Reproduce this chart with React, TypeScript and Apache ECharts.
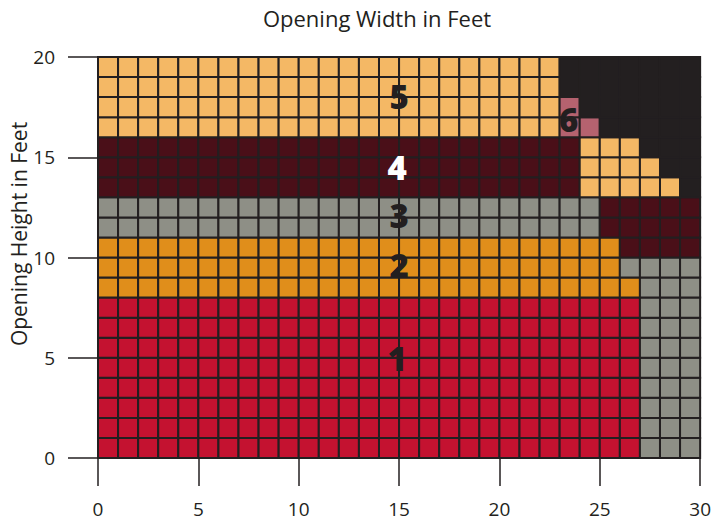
import React, { useEffect, useRef } from "react";
import * as echarts from "echarts";

// Category colours: 0 = not available (black), 1..6 = opening classes
const categoryColors = ["#231f20", "#c41230", "#e08e1b", "#8e8f86", "#4a0f18", "#f4b865", "#b5626f"];

// Each row (height y = 0..19, one foot each) as runs of [category, number of one-foot cells]
const rowRuns: [number, number][][] = [
  [[1, 27], [3, 3]], // y 0
  [[1, 27], [3, 3]], // y 1
  [[1, 27], [3, 3]], // y 2
  [[1, 27], [3, 3]], // y 3
  [[1, 27], [3, 3]], // y 4
  [[1, 27], [3, 3]], // y 5
  [[1, 27], [3, 3]], // y 6
  [[1, 27], [3, 3]], // y 7
  [[2, 27], [3, 3]], // y 8
  [[2, 26], [3, 4]], // y 9
  [[2, 26], [4, 4]], // y 10
  [[3, 25], [4, 5]], // y 11
  [[3, 25], [4, 5]], // y 12
  [[4, 24], [5, 5], [0, 1]], // y 13
  [[4, 24], [5, 4], [0, 2]], // y 14
  [[4, 24], [5, 3], [0, 3]], // y 15
  [[5, 23], [6, 2], [0, 5]], // y 16
  [[5, 23], [6, 1], [0, 6]], // y 17
  [[5, 23], [0, 7]], // y 18
  [[5, 23], [0, 7]], // y 19
];

// Class labels: [x, y, text]
const classLabels: [number, number, string][] = [
  [14.9, 4.95, "1"],
  [15.0, 9.6, "2"],
  [15.0, 12.1, "3"],
  [14.9, 14.5, "4"],
  [15.0, 18.05, "5"],
  [23.45, 16.9, "6"],
];
const whiteLabels = ["4"];

const xTicks = { min: 0, max: 30, interval: 5 };
const yTicks = { min: 0, max: 20, interval: 5 };

const xTitle = "Opening Width in Feet";
const yTitle = "Opening Height in Feet";

export default function App() {
  const ref = useRef<HTMLDivElement>(null);

  useEffect(() => {
    if (!ref.current) return;
    const chart = echarts.init(ref.current, null, { renderer: "svg" });

    const cells: number[][] = [];
    rowRuns.forEach((runs, y) => {
      let x = 0;
      runs.forEach(([cat, n]) => {
        for (let i = 0; i < n; i++) {
          cells.push([x, y, cat]);
          x++;
        }
      });
    });

    const ink = "#231f20";
    const font = "Open Sans";

    chart.setOption({
      animation: false,
      backgroundColor: "#ffffff",
      grid: { left: 98, right: 11, top: 57, bottom: 64 },
      xAxis: {
        type: "value",
        min: xTicks.min,
        max: xTicks.max,
        interval: xTicks.interval,
        axisLine: { show: true, lineStyle: { color: ink, width: 1.5 } },
        axisTick: { show: true, length: 28, lineStyle: { color: ink, width: 1.5 } },
        axisLabel: { margin: 41, color: ink, fontSize: 19, fontFamily: font },
        splitLine: { show: false },
      },
      yAxis: {
        type: "value",
        min: yTicks.min,
        max: yTicks.max,
        interval: yTicks.interval,
        axisLine: { show: true, lineStyle: { color: ink, width: 1.5 } },
        axisTick: { show: true, length: 30, lineStyle: { color: ink, width: 1.5 } },
        axisLabel: { margin: 43, color: ink, fontSize: 19, fontFamily: font },
        splitLine: { show: false },
      },
      graphic: [
        {
          type: "text",
          x: 377,
          y: 18,
          style: {
            text: xTitle,
            fill: ink,
            font: `22px "${font}"`,
            align: "center",
            verticalAlign: "middle",
          },
        },
        {
          type: "text",
          x: 19,
          y: 234,
          rotation: Math.PI / 2,
          style: {
            text: yTitle,
            fill: ink,
            font: `21px "${font}"`,
            align: "center",
            verticalAlign: "middle",
          },
        },
      ],
      series: [
        {
          type: "custom",
          data: cells,
          renderItem: (params: any, api: any) => {
            const x = api.value(0);
            const y = api.value(1);
            const c = api.value(2);
            const p0 = api.coord([x, y + 1]);
            const p1 = api.coord([x + 1, y]);
            return {
              type: "rect",
              shape: { x: p0[0], y: p0[1], width: p1[0] - p0[0], height: p1[1] - p0[1] },
              style: { fill: categoryColors[c], stroke: ink, lineWidth: 2 },
            };
          },
          z: 2,
        },
        {
          type: "custom",
          data: classLabels.map((d) => [d[0], d[1], d[2]]),
          renderItem: (params: any, api: any) => {
            const d = classLabels[params.dataIndex];
            const p = api.coord([d[0], d[1]]);
            return {
              type: "text",
              x: p[0],
              y: p[1],
              style: {
                text: d[2],
                fill: whiteLabels.includes(d[2]) ? "#ffffff" : ink,
                font: `800 33px "${font}"`,
                align: "center",
                verticalAlign: "middle",
              },
            };
          },
          z: 5,
        },
      ],
    });

    return () => chart.dispose();
  }, []);

  return <div ref={ref} style={{ width: 714, height: 522, position: "absolute", left: 0, top: 0 }} />;
}
